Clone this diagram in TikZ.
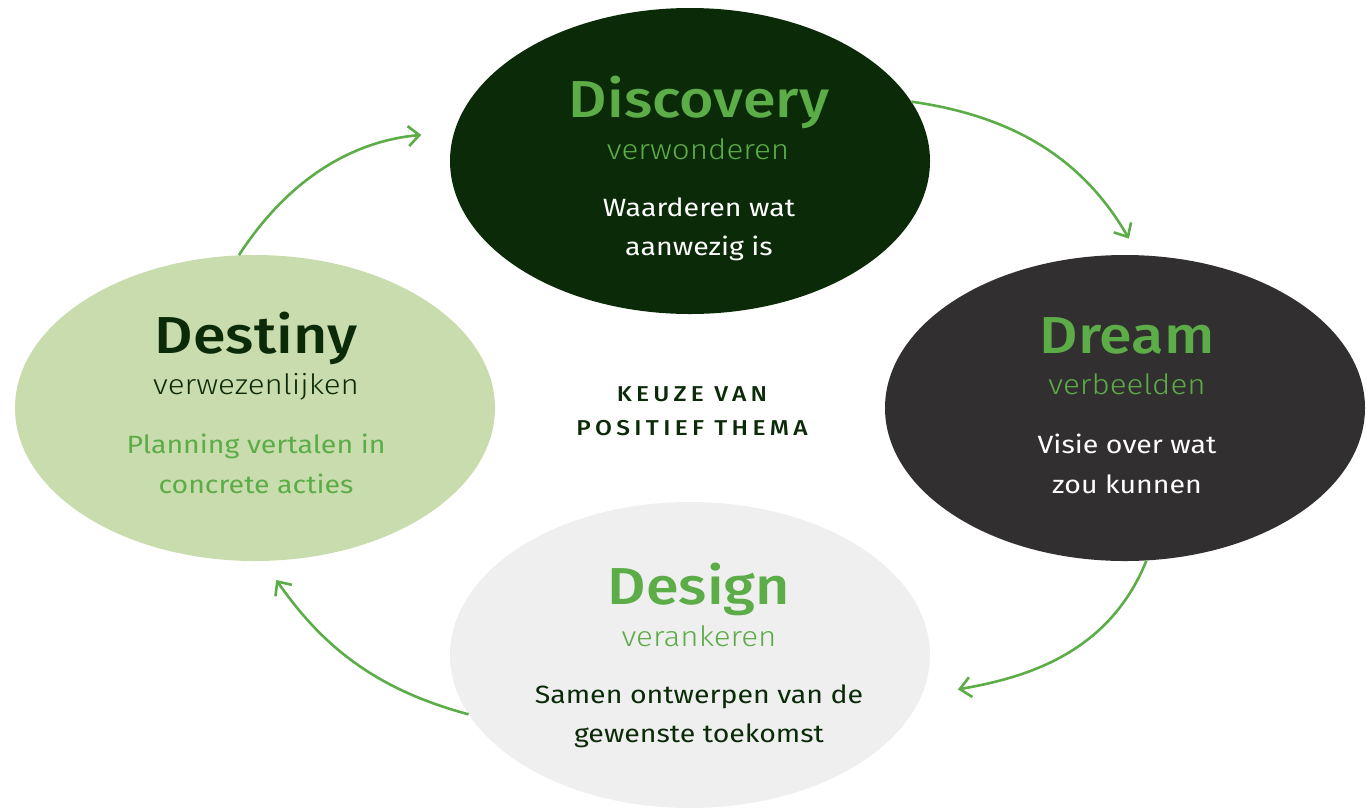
\documentclass[tikz,border=0pt]{standalone}
\usepackage{fontspec}
\setmainfont{Fira Sans}[BoldFont={Fira Sans Medium}, FakeStretch=1.14]
\newfontfamily\lightfont{Fira Sans Light}[FakeStretch=1.12]
\usetikzlibrary{shapes.geometric,arrows.meta}

\definecolor{darkgreen}{RGB}{11,42,8}
\definecolor{charcoal}{RGB}{50,47,48}
\definecolor{sage}{RGB}{201,220,173}
\definecolor{mist}{RGB}{239,239,239}
\definecolor{leaf}{RGB}{92,172,72}

\tikzset{
  phase/.style={ellipse, minimum width=480pt, minimum height=306pt, inner sep=0pt},
  title/.style={anchor=base, inner sep=0pt, font=\fontsize{52}{52}\selectfont\bfseries},
  subtitle/.style={anchor=base, inner sep=0pt, font=\lightfont\fontsize{28}{28}\selectfont},
  body/.style={anchor=base, inner sep=0pt, font=\fontsize{25}{25}\selectfont},
  theme/.style={anchor=base, inner sep=0pt, text=darkgreen,
    font=\fontsize{21.5}{21.5}\selectfont\bfseries\addfontfeatures{LetterSpace=20}},
  cycle/.style={draw=leaf, line width=2.6pt, -{Straight Barb[length=11pt,width=20pt]}},
}

\begin{document}
\begin{tikzpicture}[x=1pt,y=1pt]
\useasboundingbox (0,0) rectangle (1371,-807);
% the four phases
\node [phase, fill=darkgreen] (discovery) at (690,-161) {};
\node [phase, fill=charcoal] (dream) at (1125,-408) {};
\node [phase, fill=sage] (destiny) at (255,-408) {};
\node [phase, fill=mist] (design) at (690,-655) {};

% discovery
\node [title, text=leaf] (discovery-t) at (699,-117) {Discovery};
\node [subtitle, text=leaf] (discovery-s) at (698,-159) {verwonderen};
\node [body, text=white] (discovery-a) at (699,-216) {Waarderen wat};
\node [body, text=white] (discovery-b) at (699,-255) {aanwezig is};

% dream
\node [title, text=leaf] (dream-t) at (1127,-353) {Dream};
\node [subtitle, text=leaf] (dream-s) at (1127,-394) {verbeelden};
\node [body, text=white] (dream-a) at (1127,-453) {Visie over wat};
\node [body, text=white] (dream-b) at (1127,-493) {zou kunnen};

% destiny
\node [title, text=darkgreen] (destiny-t) at (256,-353) {Destiny};
\node [subtitle, text=darkgreen] (destiny-s) at (256,-394) {verwezenlijken};
\node [body, text=leaf] (destiny-a) at (256,-453) {Planning vertalen in};
\node [body, text=leaf] (destiny-b) at (256,-493) {concrete acties};

% design
\node [title, text=leaf] (design-t) at (699,-604) {Design};
\node [subtitle, text=leaf] (design-s) at (699,-646) {verankeren};
\node [body, text=darkgreen] (design-a) at (699,-703) {Samen ontwerpen van de};
\node [body, text=darkgreen] (design-b) at (699,-742) {gewenste toekomst};

% centre
\node [theme] (theme-a) at (692,-401) {KEUZE VAN};
\node [theme] (theme-b) at (692,-435) {POSITIEF THEMA};

% cycle arrows
\draw [cycle, shorten >=33pt] (destiny.96) to[out=57,in=185] (discovery.173);
\draw [cycle, shorten >=19pt] (discovery.15) to[out=-8,in=120] (dream.85);
\draw [cycle, shorten >=37pt] (dream.-82) to[out=-112,in=10] (design.-10);
\draw [cycle, shorten >=23pt] (design.195) to[out=165,in=-55] (destiny.-87);
\end{tikzpicture}
\end{document}
